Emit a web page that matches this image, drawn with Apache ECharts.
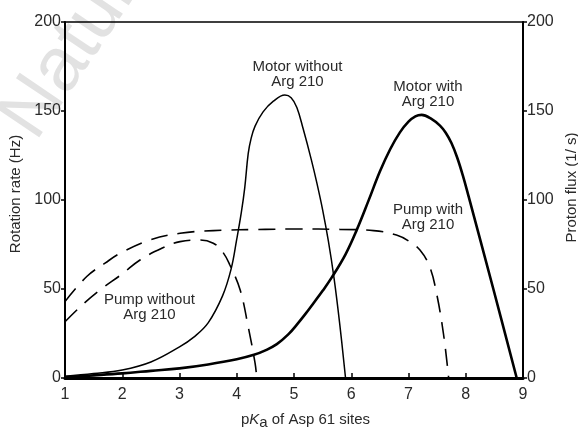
<!DOCTYPE html>
<html>
<head>
<meta charset="utf-8">
<script src="https://cdn.jsdelivr.net/npm/echarts@6/dist/echarts.min.js"></script>
<style>
  html, body { margin: 0; padding: 0; background: #fff; }
  #main { width: 578px; height: 428px; }
</style>
</head>
<body>
<div id="main"></div>
<script>
// values: [pKa, value]
const motorWithout = [
  [1, 1], [1.5, 2.5], [2, 4.5], [2.5, 9], [3, 17.5], [3.25, 23], [3.5, 31], [3.75, 46],
  [3.9, 61], [4.0, 78], [4.08, 93], [4.14, 107], [4.2, 126], [4.25, 134.5], [4.32, 141.5],
  [4.46, 149.5], [4.64, 155.5], [4.84, 159], [4.95, 157.5], [5.05, 152], [5.16, 140],
  [5.3, 123], [5.4, 109.5], [5.5, 94.5], [5.6, 77], [5.7, 56], [5.8, 30], [5.9, 0]
];
const motorWith = [
  [1, 0.5], [1.5, 1.5], [2, 2.6], [2.5, 4], [3, 5.4], [3.5, 7.6], [4, 10.5], [4.3, 13],
  [4.5, 15.5], [4.7, 19], [4.9, 24.5], [5.05, 30], [5.2, 36], [5.34, 42], [5.5, 49],
  [5.66, 56.5], [5.9, 69.5], [6.1, 83.5], [6.3, 99.5], [6.5, 116], [6.68, 128.5],
  [6.85, 138], [7.0, 144], [7.12, 147], [7.23, 147.8], [7.4, 145.6], [7.55, 141.8],
  [7.65, 137.8], [7.75, 132], [7.85, 123.9], [7.95, 113.7], [8.05, 102], [8.49, 49], [8.89, 0]
];
const pumpWithout = [
  [1, 31.6], [1.3, 41], [1.61, 49.4], [2, 58.5], [2.31, 66.3], [2.7, 73], [3.01, 76.6],
  [3.36, 77.5], [3.59, 75.7], [3.75, 71], [3.88, 63.5], [4.06, 49.4], [4.2, 28.8],
  [4.32, 8.3], [4.35, 0]
];
const pumpWith = [
  [1, 42.9], [1.38, 57], [1.7, 64.5], [1.96, 70], [2.48, 77.5], [3.01, 81.3], [3.59, 82.8],
  [4.5, 83.5], [5.05, 83.7], [5.8, 83.5], [6.39, 82.8], [6.79, 80.3], [7.0, 77],
  [7.2, 71.9], [7.37, 62.5], [7.49, 47.6], [7.61, 25], [7.7, 0.5]
];
const xTicks = [1, 9, 1];      // min, max, step
const yTicks = [0, 200, 50];

// curve labels, anchored in data coordinates
const notes = [
  { text: 'Motor without\nArg 210', at: [5.06, 170.8] },
  { text: 'Motor with\nArg 210', at: [7.34, 159.6] },
  { text: 'Pump with\nArg 210', at: [7.34, 90.2] },
  { text: 'Pump without\nArg 210', at: [2.51, 39.9], bg: true }
];

const FONT = 'Liberation Sans';
const INK = '#2a2a2a';

function curve(name, data, width, dashed) {
  return {
    name: name,
    type: 'line',
    data: data,
    smooth: 0.4,
    symbol: 'none',
    silent: true,
    lineStyle: { color: '#000', width: width, type: dashed ? [17, 10] : 'solid' }
  };
}

function valueAxis(pos, range) {
  return {
    type: 'value',
    position: pos,
    min: range[0],
    max: range[1],
    interval: range[2],
    splitLine: { show: false },
    axisLine: { show: true, lineStyle: { color: '#000', width: 2 } },
    axisTick: { show: true, inside: false, length: 4, lineStyle: { color: '#000', width: 1.5 } },
    axisLabel: { color: INK, fontSize: 16, fontFamily: FONT, margin: 4 }
  };
}

var myChart = echarts.init(document.getElementById('main'));

const yLeft = valueAxis('left', yTicks);
yLeft.name = 'Rotation rate (Hz)';
yLeft.nameLocation = 'middle';
yLeft.nameRotate = 90;
yLeft.nameGap = 40;
yLeft.nameTextStyle = { color: INK, fontSize: 15, fontFamily: FONT, padding: [0, 0, 0, 12] };

const yRight = valueAxis('right', yTicks);
yRight.name = 'Proton flux (1/ s)';
yRight.nameLocation = 'middle';
yRight.nameRotate = 90;
yRight.nameGap = 41;
yRight.nameTextStyle = { color: INK, fontSize: 15, fontFamily: FONT, padding: [0, 0, 0, 25] };

myChart.setOption({
  animation: false,
  textStyle: { fontFamily: FONT },
  grid: {
    left: 65, right: 55, top: 22, bottom: 50,
    show: true, borderColor: '#000', borderWidth: 1.5,
    outerBoundsMode: 'none'
  },
  xAxis: {
    type: 'value',
    min: xTicks[0],
    max: xTicks[1],
    interval: xTicks[2],
    splitLine: { show: false },
    axisLine: { lineStyle: { color: '#000', width: 3 } },
    axisTick: { inside: true, length: 5, lineStyle: { color: '#000', width: 1.5 } },
    axisLabel: { color: INK, fontSize: 16, fontFamily: FONT, margin: 9 },
    name: 'p{k|K}{s|a} of Asp 61 sites',
    nameLocation: 'middle',
    nameGap: 31,
    nameTextStyle: {
      color: INK, fontSize: 15, fontFamily: FONT, padding: [0, 0, 0, 23],
      rich: {
        k: { color: INK, fontSize: 15, fontFamily: FONT, fontStyle: 'italic' },
        s: { color: INK, fontSize: 15, fontFamily: FONT, padding: [6, 0, 0, 0] }
      }
    }
  },
  yAxis: [yLeft, yRight],
  series: [
    curve('Motor without Arg 210', motorWithout, 1.5, false),
    curve('Motor with Arg 210', motorWith, 2.6, false),
    curve('Pump without Arg 210', pumpWithout, 1.6, true),
    curve('Pump with Arg 210', pumpWith, 1.6, true)
  ]
});

// annotations + watermark
const graphics = notes.map(function (n) {
  const p = myChart.convertToPixel({ gridIndex: 0 }, n.at);
  return {
    type: 'text',
    x: p[0],
    y: p[1],
    z: 10,
    style: {
      text: n.text,
      fontSize: 15,
      fontFamily: FONT,
      fill: INK,
      align: 'center',
      verticalAlign: 'middle',
      lineHeight: 15,
      backgroundColor: n.bg ? '#fff' : 'transparent',
      padding: n.bg ? [0, 8, 0, 4] : 0
    }
  };
});
graphics.push({
  type: 'text',
  x: 50,
  y: 152,
  z: -10,
  rotation: 56 * Math.PI / 180,
  style: { text: 'Nature', fontSize: 76, fontFamily: FONT, fill: '#e2e2e2', verticalAlign: 'bottom' }
});
myChart.setOption({ graphic: graphics });
</script>
</body>
</html>
